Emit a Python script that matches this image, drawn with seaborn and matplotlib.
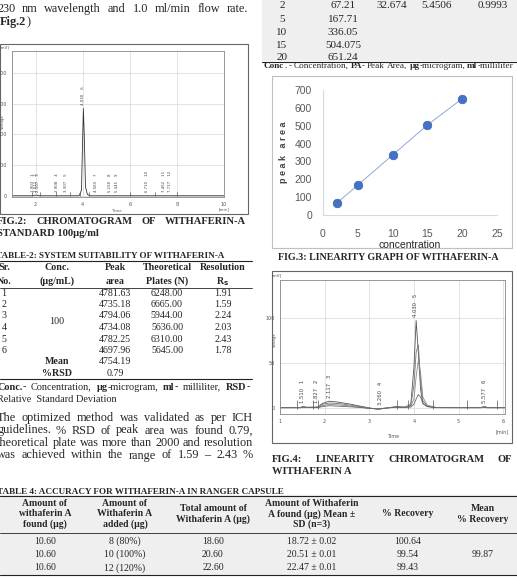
import numpy as np
import pandas as pd
import matplotlib
matplotlib.use("Agg")
import matplotlib.pyplot as plt
import seaborn as sns
from matplotlib.patches import Rectangle

# page size in pixels
W, H = 517, 578

# Table 3 / Fig 3 - linearity
lin_conc = [2, 5, 10, 15, 20]
lin_area = [67.21, 167.71, 336.05, 504.075, 651.24]
lin_conc_txt = ["2", "5", "10", "15", "20"]
lin_area_txt = ["67.21", "167.71", "336.05", "504.075", "651.24"]
lin_stats_txt = ["32.674", "5.4506", "0.9993"]

# Fig 2 - chromatogram of standard (time in min, signal in mV)
std_time = [1.0, 1.85, 1.95, 2.05, 2.2, 3.85, 3.95, 4.0, 4.03, 4.07, 4.12, 4.2, 4.3, 10.0]
std_mv = [3, 3, 6, 7, 3, 3, 40, 380, 568, 380, 60, 12, 3, 3]
std_peak_rt = ["1.903", "2.011", "2.107", "2.908", "3.307", "4.030", "4.569",
               "5.158", "5.445", "6.710", "7.462", "7.717"]
std_marks = [1.85, 2.2, 2.85, 3.45, 3.9, 4.25, 6.0, 7.05, 8.0]

# Fig 4 - overlaid linearity chromatograms
cal_time = [1.0, 1.45, 1.52, 1.6, 1.85, 1.95, 2.1, 2.3, 2.6, 2.85, 3.0, 3.2, 3.4, 3.6,
            3.8, 3.93, 4.0, 4.05, 4.1, 4.15, 4.2, 4.3, 4.5, 5.0, 5.5, 5.58, 5.65, 6.04]
cal_trace_1 = [0.5, 0.5, 1.5, 0.8, 1, 5, 7.5, 6.5, 4, 1.5, 0, -1.5, 0, 1.5,
               1, 4, 45, 97, 60, 20, 5, 1.5, 0.5, 0.5, 0.5, 1.5, 0.5, 0.5]
cal_trace_2 = [0.5, 0.5, 1.2, 0.6, 0.8, 4, 5.5, 5, 3, 1, 0, -1.2, 0, 1.2,
               0.8, 3, 25, 62, 70, 30, 8, 2, 0.5, 0.5, 0.5, 1.2, 0.5, 0.5]
cal_trace_3 = [0.3, 0.3, 1, 0.5, 0.6, 2.5, 4, 3.5, 2, 0.5, -0.5, -1, 0, 1,
               0.6, 2, 10, 35, 53, 38, 12, 3, 0.5, 0.3, 0.3, 1, 0.3, 0.3]
cal_trace_4 = [0.2, 0.2, 0.8, 0.4, 0.5, 1.5, 2.5, 2, 1.2, 0.3, -0.5, -1, 0, 0.8,
               0.5, 1, 4, 10, 15, 12, 5, 1.5, 0.3, 0.2, 0.2, 0.8, 0.2, 0.2]
cal_peak_rt = ["1.510", "1.827", "2.117", "3.260", "4.030", "5.577"]
cal_marks = [1.38, 1.74, 1.85, 3.62, 3.87, 4.43, 5.19, 5.87]

# Table 2 - system suitability
ss_no = ["1", "2", "3", "4", "5", "6"]
ss_area = ["4781.63", "4735.18", "4794.06", "4734.08", "4782.25", "4697.96"]
ss_plates = ["6248.00", "6665.00", "5944.00", "5636.00", "6310.00", "5645.00"]
ss_rs = ["1.91", "1.59", "2.24", "2.03", "2.43", "1.78"]

# Table 4 - accuracy
acc_found = ["10.60", "10.60", "10.60"]
acc_added = ["8 (80%)", "10 (100%)", "12 (120%)"]
acc_total = ["18.60", "20.60", "22.60"]
acc_mean = ["18.72 \u00b1 0.02", "20.51 \u00b1 0.01", "22.47 \u00b1 0.01"]
acc_rec = ["100.64", "99.54", "99.43"]

sns.set_theme(style="white")
plt.rcParams['font.family'] = ['Liberation Serif', 'DejaVu Serif']

fig = plt.figure(figsize=(W / 100, H / 100), dpi=100)
page = fig.add_axes([0, 0, 1, 1])
page.set_xlim(0, W)
page.set_ylim(H, 0)
page.axis('off')
renderer = fig.canvas.get_renderer()


def px_axes(x0, y0, x1, y1):
    return fig.add_axes([x0 / W, 1 - y1 / H, (x1 - x0) / W, (y1 - y0) / H])


def measure(s, size, weight):
    t = page.text(0, 0, s, fontsize=size, fontweight=weight)
    w = t.get_window_extent(renderer).width
    t.remove()
    return w


def word_runs(w, weight):
    return [(w, weight)] if isinstance(w, str) else w


def put_runs(x, y, runs, size):
    for s, wt in runs:
        page.text(x, y, s, fontsize=size, fontweight=wt, ha='left', va='center')
        x += measure(s, size, wt)
    return x


def justify(y, words, x0, x1, size=8, weight='normal'):
    runs = [word_runs(w, weight) for w in words]
    widths = [sum(measure(s, size, wt) for s, wt in r) for r in runs]
    gap = (x1 - x0 - sum(widths)) / (len(runs) - 1)
    x = x0
    for r, w in zip(runs, widths):
        put_runs(x, y, r, size)
        x += w + gap


def text(x, y, s, size=7, weight='normal', ha='center', **kw):
    page.text(x, y, s, fontsize=size, fontweight=weight, ha=ha, va='center', **kw)


def hline(y, x0, x1, lw=0.8):
    page.plot([x0, x1], [y, y], color='#222222', lw=lw)


B, N = 'bold', 'normal'
BODY = 8.8
CAP = 7.6

# ---------------- left column ----------------
justify(9, "230 nm wavelength and 1.0 ml/min flow rate.".split(), -3, 248, size=BODY)
put_runs(-4, 22, [("(", N), ("Fig.2", B), (")", N)], BODY)

page.add_patch(Rectangle((0, 44), 248, 170, fill=False, ec='#666666', lw=0.8))
ax2 = px_axes(12, 51, 224, 197)
sns.lineplot(x=std_time, y=std_mv, ax=ax2, color='#333333', lw=0.6)
ax2.vlines(std_marks, 0, 30, color='#555555', lw=0.5)
ax2.set_xlim(1, 10)
ax2.set_ylim(-5, 940)
ax2.set_xticks([2, 4, 6, 8, 10])
ax2.set_yticks([0, 200, 400, 600, 800])
for rt, num in zip(std_peak_rt, range(1, len(std_peak_rt) + 1)):
    t = float(rt)
    near = [v for tt, v in zip(std_time, std_mv) if abs(tt - t) <= 0.1]
    top = max(near + [float(np.interp(t, std_time, std_mv))])
    ax2.text(t, top + 22, f"{rt}    {num}", rotation=90, fontsize=2.8,
             ha='center', va='bottom', family='DejaVu Sans', color='#444444')
text(5, 47, "[mV]", size=2.8, family='DejaVu Sans', color='#555555')
text(2.5, 122, "Voltage", size=2.8, rotation=90, family='DejaVu Sans', color='#555555')
text(117, 211, "Time", size=2.8, family='DejaVu Sans', color='#555555')
text(224, 209, "[min]", size=2.8, family='DejaVu Sans', color='#555555')

justify(221, ["FIG.2:", "CHROMATOGRAM", "OF", "WITHAFERIN-A"], -3, 246, size=CAP, weight=B)
put_runs(-3, 233, [("STANDARD 100\u00b5g/ml", B)], CAP)

# Table 2
put_runs(-4, 256, [("TABLE-2: SYSTEM SUITABILITY OF WITHAFERIN-A", B)], 6.6)
hline(261, 0, 252)
ss_cols = [4, 57, 115, 167, 223]
hdr1 = ["Sr.", "Conc.", "Peak", "Theoretical", "Resolution"]
hdr2 = ["No.", "(\u00b5g/mL)", "area", "Plates (N)", "R$_\\mathbf{s}$"]
for cx, a, b in zip(ss_cols, hdr1, hdr2):
    text(cx, 268, a, size=7.2, weight=B)
    text(cx, 281.5, b, size=7.2, weight=B)
hline(288, 0, 252, lw=0.6)
ss_rows_y = [293, 304.5, 316, 327.5, 339, 350.5]
for yy, n, a, p, r in zip(ss_rows_y, ss_no, ss_area, ss_plates, ss_rs):
    text(ss_cols[0], yy, n, size=7.2)
    text(ss_cols[2], yy, a, size=7.2)
    text(ss_cols[3], yy, p, size=7.2)
    text(ss_cols[4], yy, r, size=7.2)
text(ss_cols[1], 322, "100", size=7.2)
text(ss_cols[1], 362, "Mean", size=7.2, weight=B)
text(ss_cols[2], 362, "4754.19", size=7.2)
text(ss_cols[1], 373, "%RSD", size=7.2, weight=B)
text(ss_cols[2], 373, "0.79", size=7.2)
hline(379, 0, 252)

justify(387, [[("Conc.", B), ("-", N)], "Concentration,", [("\u00b5g", B), ("-microgram,", N)],
              [("ml", B), ("-", N)], "milliliter,", [("RSD", B), ("-", N)]], -3, 250, size=7.4)
put_runs(-3, 399, [("Relative  Standard Deviation", N)], 7.4)

para = ["The optimized method was validated as per ICH",
        "guidelines. % RSD of peak area was found 0.79,",
        "theoretical plate was more than 2000 and resolution",
        "was achieved within the range of 1.59 \u2013 2.43 %"]
for yy, line in zip([418, 430.5, 443, 455.5], para):
    justify(yy, line.split(), -3, 253, size=BODY)

# ---------------- right column ----------------
page.add_patch(Rectangle((262, -2), 255, 63, fc='#efefef', ec='none'))
t3_rows_y = [5, 19, 32.5, 45.5, 57.5]
for yy, c, a in zip(t3_rows_y, lin_conc_txt, lin_area_txt):
    text(282, yy, c, size=8)
    text(343, yy, a, size=8)
for cx, s in zip([392, 437, 493], lin_stats_txt):
    text(cx, t3_rows_y[0], s, size=8)
hline(61.5, 262, 517)
justify(66, [[("Conc", B), (".", N)], "-", "Concentration,", [("PA", B), ("-", N)], "Peak", "Area,",
             [("\u00b5g", B), ("-microgram,", N)], [("ml", B), ("-milliliter", N)]], 264, 513, size=6.6)

# Fig 3
page.add_patch(Rectangle((272, 76), 240, 172, fill=False, ec='#bfbfbf', lw=0.8))
ax3 = px_axes(323, 90, 497, 215)
sns.lineplot(x=lin_conc, y=lin_area, ax=ax3, color='#8ea9db', lw=0.7)
sns.scatterplot(x=lin_conc, y=lin_area, ax=ax3, color='#4472c4', s=38,
                edgecolor='#3a62ad', linewidth=0.5, zorder=3)
ax3.set_xlim(0, 25)
ax3.set_ylim(0, 700)
ax3.set_xticks([0, 5, 10, 15, 20, 25])
ax3.set_yticks(range(0, 701, 100))
narrow = ['Liberation Sans Narrow', 'Liberation Sans', 'DejaVu Sans']
for lab in ax3.get_xticklabels() + ax3.get_yticklabels():
    lab.set_family(narrow)
ax3.tick_params(labelsize=7.5, colors='#595959', length=0)
ax3.tick_params(axis='x', pad=10)
ax3.tick_params(axis='y', pad=8)
for side in ['top', 'right']:
    ax3.spines[side].set_visible(False)
for side in ['left', 'bottom']:
    ax3.spines[side].set_color('#d9d9d9')
    ax3.spines[side].set_linewidth(0.8)
text(410, 245, "concentration", size=7.5, family=narrow, color='#262626')
text(284, 152, "p e a k   a r e a", size=6.5, weight=B, rotation=90,
     family=['Liberation Sans', 'DejaVu Sans'], color='#404040')
text(388, 257, "FIG.3: LINEARITY GRAPH OF WITHAFERIN-A", size=7.2, weight=B)

# Fig 4
page.add_patch(Rectangle((272, 271), 240, 172, fill=False, ec='#666666', lw=0.8))
ax4 = px_axes(280, 280, 505, 414)
cal_df = pd.DataFrame({
    'time': cal_time * 4,
    'mV': cal_trace_1 + cal_trace_2 + cal_trace_3 + cal_trace_4,
    'run': sum([[k] * len(cal_time) for k in ['a', 'b', 'c', 'd']], []),
})
sns.lineplot(data=cal_df, x='time', y='mV', hue='run', ax=ax4, lw=0.6,
             palette=['#555555', '#777777', '#8a8a8a', '#666666'], legend=False)
ax4.vlines(cal_marks, -1, 9, color='#555555', lw=0.5)
ax4.set_xlim(1, 6.04)
ax4.set_ylim(-6.7, 142)
ax4.set_xticks([1, 2, 3, 4, 5, 6])
ax4.set_yticks([0, 50, 100])
all_cal = [cal_trace_1, cal_trace_2, cal_trace_3, cal_trace_4]
for num, rt in enumerate(cal_peak_rt, start=1):
    t = float(rt)
    top = max(v for tr in all_cal for tt, v in zip(cal_time, tr) if abs(tt - t) <= 0.1)
    ax4.text(t, top + 4, f"{rt}   {num}", rotation=90, fontsize=3.8,
             ha='center', va='bottom', family='DejaVu Sans', color='#444444')
text(277, 275, "[mV]", size=3, family='DejaVu Sans', color='#555555')
text(274.5, 340, "Voltage", size=2.8, rotation=90, family='DejaVu Sans', color='#555555')
text(393, 437, "Time", size=3.5, family='DejaVu Sans', color='#555555')
text(502, 432, "[min]", size=3.5, family='DejaVu Sans', color='#555555')

for ax in (ax2, ax4):
    ax.set_xlabel('')
    ax.set_ylabel('')
    ax.grid(True, color='#d8d8d8', lw=0.5)
    ax.tick_params(labelsize=3.5, colors='#555555', length=2, width=0.5, pad=1.5)
    for lab in ax.get_xticklabels() + ax.get_yticklabels():
        lab.set_family('DejaVu Sans')
    for sp in ax.spines.values():
        sp.set_color('#888888')
        sp.set_linewidth(0.6)
ax3.set_xlabel('')
ax3.set_ylabel('')

justify(460, ["FIG.4:", "LINEARITY", "CHROMATOGRAM", "OF"], 272, 512, size=CAP, weight=B)
put_runs(272, 472, [("WITHAFERIN A", B)], CAP)

# Table 4
put_runs(-3, 492, [("TABLE 4: ACCURACY FOR WITHAFERIN-A IN RANGER CAPSULE", B)], 6.6)
page.add_patch(Rectangle((0, 495), W, 80, fc='#efefef', ec='none'))
hline(495.5, 0, W)
acc_cols = [45, 125, 213, 312, 408, 483]
acc_hdr = [["Amount of", "withaferin A", "found (\u00b5g)"],
           ["Amount of", "Withaferin A", "added (\u00b5g)"],
           ["Total amount of", "Withaferin A (\u00b5g)"],
           ["Amount of Withaferin", "A found (\u00b5g) Mean \u00b1", "SD (n=3)"],
           ["% Recovery"],
           ["Mean", "% Recovery"]]
for cx, lines in zip(acc_cols, acc_hdr):
    y0 = 514 - (len(lines) - 1) * 10.5 / 2
    for i, s in enumerate(lines):
        text(cx, y0 + i * 10.5, s, size=7, weight=B)
hline(533, 0, W, lw=0.6)
acc_rows_y = [541, 554.5, 568]
for yy, a, b, c, d, e in zip(acc_rows_y, acc_found, acc_added, acc_total, acc_mean, acc_rec):
    for cx, s in zip(acc_cols, [a, b, c, d, e]):
        text(cx, yy, s, size=7)
text(acc_cols[5], acc_rows_y[1], "99.87", size=7)
hline(575, 0, W)

fig.savefig("out.png", dpi=100)
